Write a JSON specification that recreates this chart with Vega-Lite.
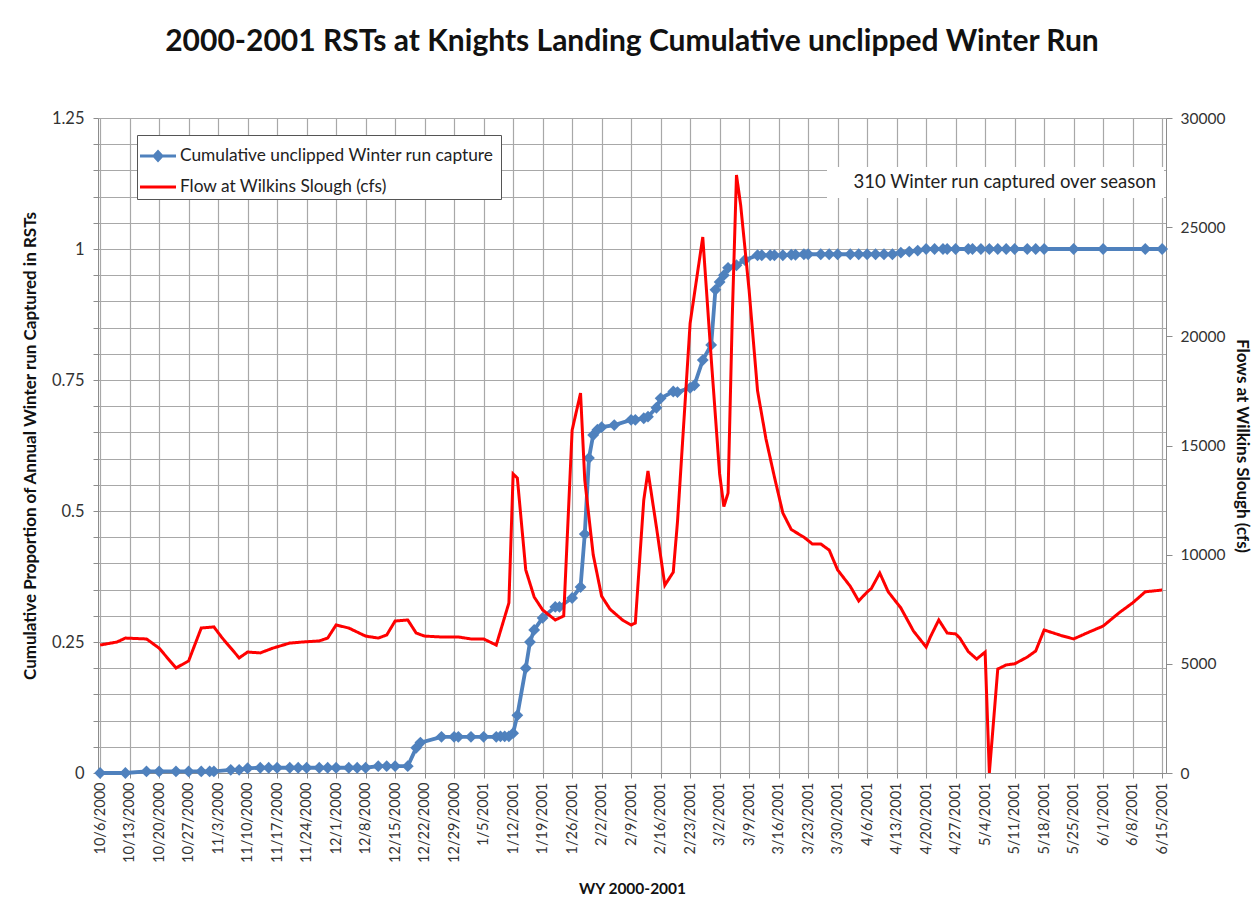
{
  "$schema": "https://vega.github.io/schema/vega-lite/v6.json",
  "width": 1068,
  "height": 655,
  "autosize": {"type": "none"},
  "padding": {"left": 98, "top": 118, "right": 87, "bottom": 132},
  "background": "white",
  "config": {
    "font": "Lato",
    "view": {"stroke": null},
    "axis": {"labelFont": "Lato", "titleFont": "Lato", "labelColor": "#333333", "titleColor": "#111111", "domainColor": "#8c8c8c", "tickColor": "#8c8c8c", "gridColor": "#a8a8a8", "gridWidth": 1.2}
  },
  "title": {
    "text": "2000-2001 RSTs at Knights Landing Cumulative unclipped Winter Run",
    "fontSize": 30,
    "fontWeight": "bold",
    "font": "Lato",
    "color": "#111111",
    "anchor": "middle",
    "frame": "group",
    "offset": 53
  },
  "datasets": {
    "capture": [
      {"date": "2000-10-06T00:00", "prop": 0},
      {"date": "2000-10-12T00:00", "prop": 0},
      {"date": "2000-10-17T00:00", "prop": 0.003},
      {"date": "2000-10-20T00:00", "prop": 0.003},
      {"date": "2000-10-24T00:00", "prop": 0.003},
      {"date": "2000-10-27T00:00", "prop": 0.003},
      {"date": "2000-10-30T00:00", "prop": 0.003},
      {"date": "2000-11-01T00:00", "prop": 0.003},
      {"date": "2000-11-02T00:00", "prop": 0.003},
      {"date": "2000-11-06T00:00", "prop": 0.006},
      {"date": "2000-11-08T00:00", "prop": 0.006},
      {"date": "2000-11-10T00:00", "prop": 0.009},
      {"date": "2000-11-13T00:00", "prop": 0.01},
      {"date": "2000-11-15T00:00", "prop": 0.01},
      {"date": "2000-11-17T00:00", "prop": 0.01},
      {"date": "2000-11-20T00:00", "prop": 0.01},
      {"date": "2000-11-22T00:00", "prop": 0.01},
      {"date": "2000-11-24T00:00", "prop": 0.01},
      {"date": "2000-11-27T00:00", "prop": 0.01},
      {"date": "2000-11-29T00:00", "prop": 0.01},
      {"date": "2000-12-01T00:00", "prop": 0.01},
      {"date": "2000-12-04T00:00", "prop": 0.01},
      {"date": "2000-12-06T00:00", "prop": 0.01},
      {"date": "2000-12-08T00:00", "prop": 0.01},
      {"date": "2000-12-11T00:00", "prop": 0.013},
      {"date": "2000-12-13T00:00", "prop": 0.013},
      {"date": "2000-12-15T00:00", "prop": 0.013},
      {"date": "2000-12-18T00:00", "prop": 0.013},
      {"date": "2000-12-20T00:00", "prop": 0.048},
      {"date": "2000-12-21T00:00", "prop": 0.058},
      {"date": "2000-12-26T00:00", "prop": 0.069},
      {"date": "2000-12-29T00:00", "prop": 0.069},
      {"date": "2000-12-30T00:00", "prop": 0.069},
      {"date": "2001-01-02T00:00", "prop": 0.069},
      {"date": "2001-01-05T00:00", "prop": 0.069},
      {"date": "2001-01-08T00:00", "prop": 0.069},
      {"date": "2001-01-09T00:00", "prop": 0.07},
      {"date": "2001-01-10T00:00", "prop": 0.07},
      {"date": "2001-01-11T00:00", "prop": 0.07},
      {"date": "2001-01-12T00:00", "prop": 0.076},
      {"date": "2001-01-13T00:00", "prop": 0.11},
      {"date": "2001-01-15T00:00", "prop": 0.2},
      {"date": "2001-01-16T00:00", "prop": 0.25},
      {"date": "2001-01-17T00:00", "prop": 0.273},
      {"date": "2001-01-19T00:00", "prop": 0.296},
      {"date": "2001-01-22T00:00", "prop": 0.317},
      {"date": "2001-01-23T00:00", "prop": 0.317},
      {"date": "2001-01-26T00:00", "prop": 0.334},
      {"date": "2001-01-28T00:00", "prop": 0.355},
      {"date": "2001-01-29T00:00", "prop": 0.456},
      {"date": "2001-01-30T00:00", "prop": 0.601},
      {"date": "2001-01-31T00:00", "prop": 0.645},
      {"date": "2001-02-01T00:00", "prop": 0.655},
      {"date": "2001-02-02T00:00", "prop": 0.66},
      {"date": "2001-02-05T00:00", "prop": 0.664},
      {"date": "2001-02-09T00:00", "prop": 0.674},
      {"date": "2001-02-10T00:00", "prop": 0.674},
      {"date": "2001-02-12T00:00", "prop": 0.677},
      {"date": "2001-02-13T00:00", "prop": 0.68},
      {"date": "2001-02-15T00:00", "prop": 0.697},
      {"date": "2001-02-16T00:00", "prop": 0.715},
      {"date": "2001-02-19T00:00", "prop": 0.728},
      {"date": "2001-02-20T00:00", "prop": 0.727},
      {"date": "2001-02-23T00:00", "prop": 0.735},
      {"date": "2001-02-24T00:00", "prop": 0.74},
      {"date": "2001-02-26T00:00", "prop": 0.788},
      {"date": "2001-02-28T00:00", "prop": 0.817},
      {"date": "2001-03-01T00:00", "prop": 0.922},
      {"date": "2001-03-02T00:00", "prop": 0.937},
      {"date": "2001-03-03T00:00", "prop": 0.95},
      {"date": "2001-03-04T00:00", "prop": 0.964},
      {"date": "2001-03-06T00:00", "prop": 0.969},
      {"date": "2001-03-08T00:00", "prop": 0.979},
      {"date": "2001-03-11T00:00", "prop": 0.988},
      {"date": "2001-03-12T00:00", "prop": 0.988},
      {"date": "2001-03-14T00:00", "prop": 0.988},
      {"date": "2001-03-15T00:00", "prop": 0.988},
      {"date": "2001-03-17T00:00", "prop": 0.988},
      {"date": "2001-03-19T00:00", "prop": 0.989},
      {"date": "2001-03-20T00:00", "prop": 0.989},
      {"date": "2001-03-22T00:00", "prop": 0.99},
      {"date": "2001-03-23T00:00", "prop": 0.99},
      {"date": "2001-03-26T00:00", "prop": 0.99},
      {"date": "2001-03-28T00:00", "prop": 0.99},
      {"date": "2001-03-30T00:00", "prop": 0.99},
      {"date": "2001-04-02T00:00", "prop": 0.99},
      {"date": "2001-04-04T00:00", "prop": 0.99},
      {"date": "2001-04-06T00:00", "prop": 0.99},
      {"date": "2001-04-08T00:00", "prop": 0.99},
      {"date": "2001-04-10T00:00", "prop": 0.99},
      {"date": "2001-04-12T00:00", "prop": 0.99},
      {"date": "2001-04-14T00:00", "prop": 0.993},
      {"date": "2001-04-16T00:00", "prop": 0.995},
      {"date": "2001-04-18T00:00", "prop": 0.997},
      {"date": "2001-04-20T00:00", "prop": 1},
      {"date": "2001-04-22T00:00", "prop": 1},
      {"date": "2001-04-24T00:00", "prop": 1},
      {"date": "2001-04-25T00:00", "prop": 1},
      {"date": "2001-04-27T00:00", "prop": 1},
      {"date": "2001-04-30T00:00", "prop": 1},
      {"date": "2001-05-01T00:00", "prop": 1},
      {"date": "2001-05-03T00:00", "prop": 1},
      {"date": "2001-05-05T00:00", "prop": 1},
      {"date": "2001-05-07T00:00", "prop": 1},
      {"date": "2001-05-09T00:00", "prop": 1},
      {"date": "2001-05-11T00:00", "prop": 1},
      {"date": "2001-05-14T00:00", "prop": 1},
      {"date": "2001-05-16T00:00", "prop": 1},
      {"date": "2001-05-18T00:00", "prop": 1},
      {"date": "2001-05-25T00:00", "prop": 1},
      {"date": "2001-06-01T00:00", "prop": 1},
      {"date": "2001-06-11T00:00", "prop": 1},
      {"date": "2001-06-15T00:00", "prop": 1}
    ],
    "flow": [
      {"date": "2000-10-06T00:00", "flow": 5860},
      {"date": "2000-10-10T00:00", "flow": 6000},
      {"date": "2000-10-12T00:00", "flow": 6180},
      {"date": "2000-10-17T00:00", "flow": 6140},
      {"date": "2000-10-20T00:00", "flow": 5720},
      {"date": "2000-10-24T00:00", "flow": 4810},
      {"date": "2000-10-27T00:00", "flow": 5130},
      {"date": "2000-10-30T00:00", "flow": 6640},
      {"date": "2000-11-02T00:00", "flow": 6690},
      {"date": "2000-11-04T00:00", "flow": 6180},
      {"date": "2000-11-08T00:00", "flow": 5270},
      {"date": "2000-11-10T00:00", "flow": 5540},
      {"date": "2000-11-13T00:00", "flow": 5500},
      {"date": "2000-11-16T00:00", "flow": 5720},
      {"date": "2000-11-20T00:00", "flow": 5950},
      {"date": "2000-11-23T00:00", "flow": 6000},
      {"date": "2000-11-27T00:00", "flow": 6050},
      {"date": "2000-11-29T00:00", "flow": 6180},
      {"date": "2000-12-01T00:00", "flow": 6780},
      {"date": "2000-12-04T00:00", "flow": 6640},
      {"date": "2000-12-08T00:00", "flow": 6270},
      {"date": "2000-12-11T00:00", "flow": 6180},
      {"date": "2000-12-13T00:00", "flow": 6320},
      {"date": "2000-12-15T00:00", "flow": 6960},
      {"date": "2000-12-18T00:00", "flow": 7010},
      {"date": "2000-12-20T00:00", "flow": 6410},
      {"date": "2000-12-22T00:00", "flow": 6270},
      {"date": "2000-12-26T00:00", "flow": 6230},
      {"date": "2000-12-30T00:00", "flow": 6230},
      {"date": "2001-01-02T00:00", "flow": 6140},
      {"date": "2001-01-05T00:00", "flow": 6140},
      {"date": "2001-01-08T00:00", "flow": 5860},
      {"date": "2001-01-11T00:00", "flow": 7790},
      {"date": "2001-01-12T00:00", "flow": 13700},
      {"date": "2001-01-13T00:00", "flow": 13510},
      {"date": "2001-01-15T00:00", "flow": 9300},
      {"date": "2001-01-17T00:00", "flow": 8060},
      {"date": "2001-01-19T00:00", "flow": 7470},
      {"date": "2001-01-22T00:00", "flow": 7010},
      {"date": "2001-01-24T00:00", "flow": 7190},
      {"date": "2001-01-26T00:00", "flow": 15700},
      {"date": "2001-01-28T00:00", "flow": 17400},
      {"date": "2001-01-29T00:00", "flow": 13420},
      {"date": "2001-01-31T00:00", "flow": 10000},
      {"date": "2001-02-02T00:00", "flow": 8100},
      {"date": "2001-02-04T00:00", "flow": 7500},
      {"date": "2001-02-07T00:00", "flow": 7000},
      {"date": "2001-02-09T00:00", "flow": 6780},
      {"date": "2001-02-10T00:00", "flow": 6870},
      {"date": "2001-02-12T00:00", "flow": 12500},
      {"date": "2001-02-13T00:00", "flow": 13830},
      {"date": "2001-02-15T00:00", "flow": 11270},
      {"date": "2001-02-17T00:00", "flow": 8600},
      {"date": "2001-02-19T00:00", "flow": 9200},
      {"date": "2001-02-20T00:00", "flow": 11500},
      {"date": "2001-02-23T00:00", "flow": 20600},
      {"date": "2001-02-26T00:00", "flow": 24550},
      {"date": "2001-02-28T00:00", "flow": 19000},
      {"date": "2001-03-02T00:00", "flow": 13700},
      {"date": "2001-03-03T00:00", "flow": 12200},
      {"date": "2001-03-04T00:00", "flow": 12820},
      {"date": "2001-03-05T00:00", "flow": 20880},
      {"date": "2001-03-06T00:00", "flow": 27390},
      {"date": "2001-03-07T00:00", "flow": 26000},
      {"date": "2001-03-09T00:00", "flow": 22100},
      {"date": "2001-03-11T00:00", "flow": 17500},
      {"date": "2001-03-13T00:00", "flow": 15300},
      {"date": "2001-03-15T00:00", "flow": 13560},
      {"date": "2001-03-17T00:00", "flow": 11910},
      {"date": "2001-03-19T00:00", "flow": 11150},
      {"date": "2001-03-22T00:00", "flow": 10800},
      {"date": "2001-03-24T00:00", "flow": 10490},
      {"date": "2001-03-26T00:00", "flow": 10490},
      {"date": "2001-03-28T00:00", "flow": 10210},
      {"date": "2001-03-30T00:00", "flow": 9300},
      {"date": "2001-04-02T00:00", "flow": 8550},
      {"date": "2001-04-04T00:00", "flow": 7880},
      {"date": "2001-04-06T00:00", "flow": 8290},
      {"date": "2001-04-07T00:00", "flow": 8450},
      {"date": "2001-04-09T00:00", "flow": 9160},
      {"date": "2001-04-11T00:00", "flow": 8300},
      {"date": "2001-04-14T00:00", "flow": 7560},
      {"date": "2001-04-17T00:00", "flow": 6500},
      {"date": "2001-04-20T00:00", "flow": 5770},
      {"date": "2001-04-21T00:00", "flow": 6230},
      {"date": "2001-04-23T00:00", "flow": 7010},
      {"date": "2001-04-25T00:00", "flow": 6410},
      {"date": "2001-04-27T00:00", "flow": 6370},
      {"date": "2001-04-28T00:00", "flow": 6180},
      {"date": "2001-04-30T00:00", "flow": 5560},
      {"date": "2001-05-02T00:00", "flow": 5220},
      {"date": "2001-05-04T00:00", "flow": 5540},
      {"date": "2001-05-05T00:00", "flow": 0},
      {"date": "2001-05-07T00:00", "flow": 4760},
      {"date": "2001-05-09T00:00", "flow": 4950},
      {"date": "2001-05-11T00:00", "flow": 5000},
      {"date": "2001-05-14T00:00", "flow": 5310},
      {"date": "2001-05-16T00:00", "flow": 5590},
      {"date": "2001-05-18T00:00", "flow": 6550},
      {"date": "2001-05-22T00:00", "flow": 6300},
      {"date": "2001-05-25T00:00", "flow": 6140},
      {"date": "2001-05-28T00:00", "flow": 6400},
      {"date": "2001-06-01T00:00", "flow": 6730},
      {"date": "2001-06-05T00:00", "flow": 7370},
      {"date": "2001-06-08T00:00", "flow": 7790},
      {"date": "2001-06-11T00:00", "flow": 8300},
      {"date": "2001-06-15T00:00", "flow": 8380}
    ]
  },
  "encoding": {
    "x": {
      "field": "date",
      "type": "temporal",
      "scale": {"domain": [{"year": 2000, "month": 10, "date": 5, "hours": 12}, {"year": 2001, "month": 6, "date": 15, "hours": 22}]},
      "axis": {
        "title": "WY 2000-2001",
        "titleFontSize": 15.5,
        "titleFontWeight": "bold",
        "titlePadding": 19,
        "format": "%-m/%-d/%Y",
        "labelAngle": 270,
        "labelFontSize": 14.5,
        "labelPadding": 4,
        "labelOverlap": false,
        "labelFlush": false,
        "tickSize": 5,
        "grid": true,
        "values": [
          {"year": 2000, "month": 10, "date": 6}, {"year": 2000, "month": 10, "date": 13}, {"year": 2000, "month": 10, "date": 20}, {"year": 2000, "month": 10, "date": 27},
          {"year": 2000, "month": 11, "date": 3}, {"year": 2000, "month": 11, "date": 10}, {"year": 2000, "month": 11, "date": 17}, {"year": 2000, "month": 11, "date": 24},
          {"year": 2000, "month": 12, "date": 1}, {"year": 2000, "month": 12, "date": 8}, {"year": 2000, "month": 12, "date": 15}, {"year": 2000, "month": 12, "date": 22}, {"year": 2000, "month": 12, "date": 29},
          {"year": 2001, "month": 1, "date": 5}, {"year": 2001, "month": 1, "date": 12}, {"year": 2001, "month": 1, "date": 19}, {"year": 2001, "month": 1, "date": 26},
          {"year": 2001, "month": 2, "date": 2}, {"year": 2001, "month": 2, "date": 9}, {"year": 2001, "month": 2, "date": 16}, {"year": 2001, "month": 2, "date": 23},
          {"year": 2001, "month": 3, "date": 2}, {"year": 2001, "month": 3, "date": 9}, {"year": 2001, "month": 3, "date": 16}, {"year": 2001, "month": 3, "date": 23}, {"year": 2001, "month": 3, "date": 30},
          {"year": 2001, "month": 4, "date": 6}, {"year": 2001, "month": 4, "date": 13}, {"year": 2001, "month": 4, "date": 20}, {"year": 2001, "month": 4, "date": 27},
          {"year": 2001, "month": 5, "date": 4}, {"year": 2001, "month": 5, "date": 11}, {"year": 2001, "month": 5, "date": 18}, {"year": 2001, "month": 5, "date": 25},
          {"year": 2001, "month": 6, "date": 1}, {"year": 2001, "month": 6, "date": 8}, {"year": 2001, "month": 6, "date": 15}
        ]
      }
    }
  },
  "layer": [
    {
      "data": {"name": "capture"},
      "mark": {"type": "line", "strokeWidth": 3.8, "point": {"shape": "diamond", "filled": true, "size": 140, "opacity": 1}},
      "encoding": {
        "y": {
          "field": "prop",
          "type": "quantitative",
          "scale": {"domain": [0, 1.25], "nice": false, "zero": true},
          "axis": {
            "title": "Cumulative  Proportion  of Annual Winter run Captured in RSTs",
            "titleFontSize": 17,
            "titleFontWeight": "bold",
            "titlePadding": 12,
            "labelFontSize": 16.5,
            "labelPadding": 9,
            "labelOverlap": false,
            "labelFlush": false,
            "tickSize": 5,
            "grid": true,
            "values": [0, 0.05, 0.1, 0.15, 0.2, 0.25, 0.3, 0.35, 0.4, 0.45, 0.5, 0.55, 0.6, 0.65, 0.7, 0.75, 0.8, 0.85, 0.9, 0.95, 1, 1.05, 1.1, 1.15, 1.2, 1.25],
            "labelExpr": "abs(datum.value * 4 - round(datum.value * 4)) < 0.001 ? format(datum.value, '~g') : ''"
          }
        },
        "color": {
          "datum": "Cumulative unclipped  Winter run capture",
          "type": "nominal",
          "scale": {"domain": ["Cumulative unclipped  Winter run capture", "Flow at Wilkins Slough (cfs)"], "range": ["#4F81BD", "#FF0000"]},
          "legend": {
            "title": null,
            "orient": "none",
            "legendX": 39,
            "legendY": 17,
            "direction": "vertical",
            "strokeColor": "#555555",
            "fillColor": "white",
            "padding": 3,
            "rowPadding": 4,
            "labelFont": "Lato",
            "labelFontSize": 17.3,
            "labelColor": "#222222",
            "labelLimit": 600,
            "labelOffset": 4,
            "symbolSize": 1296,
            "symbolType": "stroke",
            "symbolStrokeWidth": 0,
            "encode": {
              "symbols": {
                "update": {
                  "shape": {"signal": "datum.value === 'Flow at Wilkins Slough (cfs)' ? 'M-1,-0.085H1V0.085H-1Z' : 'M-1,-0.085H1V0.085H-1Z M0,-0.36L0.33,0L0,0.36L-0.33,0Z'"},
                  "fill": {"signal": "datum.value === 'Flow at Wilkins Slough (cfs)' ? '#FF0000' : '#4F81BD'"},
                  "fillOpacity": {"value": 1},
                  "opacity": {"value": 1},
                  "strokeWidth": {"value": 0}
                }
              }
            }
          }
        }
      }
    },
    {
      "data": {"name": "flow"},
      "mark": {"type": "line", "strokeWidth": 3},
      "encoding": {
        "y": {
          "field": "flow",
          "type": "quantitative",
          "scale": {"domain": [0, 30000], "nice": false},
          "axis": {
            "orient": "right",
            "title": "Flows at Wilkins Slough (cfs)",
            "titleFontSize": 17,
            "titleFontWeight": "bold",
            "titlePadding": 8,
            "labelFontSize": 15.5,
            "labelPadding": 8,
            "labelFlush": false,
            "tickSize": 6,
            "grid": false,
            "format": "d",
            "values": [0, 5000, 10000, 15000, 20000, 25000, 30000]
          }
        },
        "color": {"datum": "Flow at Wilkins Slough (cfs)", "type": "nominal"},
        "strokeDash": {
          "datum": "310 Winter run captured over season",
          "type": "nominal",
          "scale": {"range": [[1, 0]]},
          "legend": {
            "title": null,
            "orient": "none",
            "legendX": 729,
            "legendY": 49,
            "fillColor": "white",
            "strokeColor": null,
            "padding": 6,
            "labelFont": "Lato",
            "labelFontSize": 18.5,
            "labelColor": "#222222",
            "labelLimit": 600,
            "labelOffset": 2,
            "symbolSize": 1,
            "symbolOpacity": 0,
            "symbolStrokeWidth": 0
          }
        }
      }
    }
  ],
  "resolve": {"scale": {"y": "independent"}}
}
